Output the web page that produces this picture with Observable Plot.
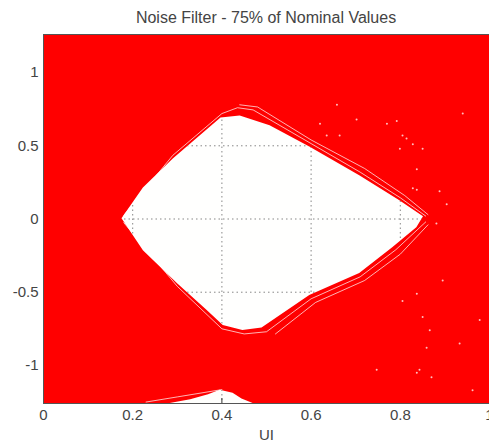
<!DOCTYPE html>
<html>
<head>
<meta charset="utf-8">
<script src="https://cdn.jsdelivr.net/npm/d3@7"></script>
<script src="https://cdn.jsdelivr.net/npm/@observablehq/plot@0.6"></script>
<style>
  html, body { margin: 0; padding: 0; background: white; overflow: hidden; }
  #title { height: 26px; box-sizing: border-box; padding: 10px 0 0 43px; width: 489px;
           font: 16px "Liberation Sans", Arial, sans-serif; line-height: 15px; color: #444; text-align: center; white-space: nowrap; }
</style>
</head>
<body>
<div id="title"></div>
<div id="chart"></div>
<script>
const titleText = "Noise Filter - 75% of Nominal Values";
const xLabel = "UI";
const xTicks = [0, 0.2, 0.4, 0.6, 0.8, 1];
const yTicks = [-1, -0.5, 0, 0.5, 1];

// eye opening: inner boundary (upper and lower)
const upperX = [0.176, 0.224, 0.291, 0.351, 0.398, 0.441, 0.508, 0.597, 0.709, 0.799, 0.852];
const upperY = [0.002, 0.212, 0.41, 0.567, 0.69, 0.704, 0.636, 0.492, 0.295, 0.124, 0.016];
const lowerX = [0.176, 0.224, 0.300, 0.367, 0.403, 0.447, 0.490, 0.597, 0.709, 0.783, 0.837, 0.852];
const lowerY = [0.002, -0.216, -0.441, -0.625, -0.727, -0.761, -0.745, -0.523, -0.373, -0.196, -0.06, 0.016];

// top of the next eye, visible at the bottom edge
const bumpX = [0.284, 0.33, 0.37, 0.396, 0.425, 0.445, 0.47];
const bumpY = [-1.26, -1.235, -1.20, -1.17, -1.19, -1.23, -1.26];

// stray traces just outside the opening
const traceA_X = [0.18, 0.29, 0.40, 0.435, 0.47, 0.60, 0.71, 0.80, 0.857];
const traceA_Y = [0.025, 0.435, 0.72, 0.76, 0.745, 0.515, 0.32, 0.145, 0.02];
const traceB_X = [0.44, 0.48, 0.60, 0.72, 0.81, 0.862];
const traceB_Y = [0.78, 0.765, 0.54, 0.345, 0.16, 0.03];
const traceC_X = [0.18, 0.30, 0.40, 0.45, 0.50, 0.60, 0.71, 0.79, 0.857];
const traceC_Y = [-0.025, -0.46, -0.75, -0.785, -0.77, -0.545, -0.395, -0.21, -0.02];
const traceD_X = [0.52, 0.61, 0.72, 0.80, 0.862];
const traceD_Y = [-0.785, -0.57, -0.42, -0.24, -0.04];
const traceE_X = [0.23, 0.30, 0.36, 0.40];
const traceE_Y = [-1.25, -1.215, -1.185, -1.165];

// noise specks in the red area
const speckX = [0.770, 0.792, 0.805, 0.814, 0.828, 0.799, 0.850, 0.940, 0.828, 0.888, 0.904, 0.881, 0.895, 0.837, 0.805, 0.850, 0.978, 0.866, 0.933, 0.843, 0.747, 0.837, 0.870, 0.962, 0.859, 0.658, 0.702, 0.837, 0.837, 0.620, 0.635, 0.664];
const speckY = [0.65, 0.67, 0.57, 0.55, 0.51, 0.48, 0.48, 0.72, 0.21, 0.19, 0.10, -0.03, -0.42, -0.51, -0.56, -0.67, -0.69, -0.76, -0.85, -1.03, -1.03, -1.05, -1.08, -1.17, -0.88, 0.78, 0.68, 0.34, 0.20, 0.65, 0.57, 0.57];

document.getElementById("title").textContent = titleText;

const eye = [
  ...upperX.map((x, i) => ({x, y: upperY[i]})),
  ...lowerX.map((x, i) => ({x, y: lowerY[i]})).reverse()
];
const bump = bumpX.map((x, i) => ({x, y: bumpY[i]}));
const traces = [
  [traceA_X, traceA_Y, "A"], [traceB_X, traceB_Y, "B"], [traceC_X, traceC_Y, "C"],
  [traceD_X, traceD_Y, "D"], [traceE_X, traceE_Y, "E"]
].flatMap(([xs, ys, id]) => xs.map((x, i) => ({x, y: ys[i], id})));
const specks = speckX.map((x, i) => ({x, y: speckY[i]}));

// a closed polygon drawn as an area whose return edge collapses to its first vertex
const polygon = (pts, fill) => Plot.area(pts, {
  x1: "x", y1: "y", x2: () => pts[0].x, y2: () => pts[0].y, fill, stroke: "none", curve: "linear"
});

const EYE_FILL = "#fffffe", BUMP_FILL = "#fffffd", GRID = "#878787", INNER_TICK = "#343434";

const svg = Plot.plot({
  width: 489,
  height: 420,
  marginLeft: 43,
  marginRight: 0,
  marginTop: 8,
  marginBottom: 43,
  style: {fontFamily: "'Liberation Sans', Arial, sans-serif", fontSize: "15px", color: "#444", background: "white", overflow: "visible"},
  x: {domain: [0, 1]},
  y: {domain: [-1.26, 1.26]},
  marks: [
    Plot.frame({fill: "#ff0000"}),
    polygon(eye, EYE_FILL),
    polygon(bump, BUMP_FILL),
    Plot.line(traces, {x: "x", y: "y", z: "id", stroke: "white", strokeWidth: 1, strokeOpacity: 0.7}),
    Plot.dot(specks, {x: "x", y: "y", r: 1, fill: "white", fillOpacity: 0.75, stroke: "none"}),
    Plot.ruleX(xTicks, {x: d => d, stroke: GRID, strokeWidth: 1, strokeDasharray: "1.5,3"}),
    Plot.ruleY(yTicks, {y: d => d, stroke: GRID, strokeWidth: 1, strokeDasharray: "1.5,3"}),
    Plot.axisX(xTicks, {tickSize: -5, tickFormat: () => "", label: null, stroke: INNER_TICK}),
    Plot.axisX(xTicks, {tickSize: 0, tickPadding: 6, tickFormat: d => String(d), label: null, fill: "#444"}),
    Plot.axisY(yTicks, {tickSize: 0, tickPadding: 5, tickFormat: d => String(d), label: null, fill: "#444"}),
    Plot.text([xLabel], {text: d => d, frameAnchor: "bottom", dy: 36, fontSize: 15, fill: "#444"}),
    Plot.frame({stroke: "#555", strokeWidth: 1})
  ]
});
document.getElementById("chart").appendChild(svg);

// show grid lines and inner ticks only inside the white openings
const ns = "http://www.w3.org/2000/svg";
const defs = document.createElementNS(ns, "defs");
const cp = document.createElementNS(ns, "clipPath");
cp.setAttribute("id", "eyeclip");
svg.querySelectorAll(`g[fill="${EYE_FILL}"] path, g[fill="${BUMP_FILL}"] path, path[fill="${EYE_FILL}"], path[fill="${BUMP_FILL}"]`).forEach(p => {
  const c = p.cloneNode(true);
  const t = p.parentNode.getAttribute("transform");
  if (t) c.setAttribute("transform", t);
  cp.appendChild(c);
});
defs.appendChild(cp);
svg.insertBefore(defs, svg.firstChild);
svg.querySelectorAll(`g[stroke="${GRID}"], g[stroke="${INNER_TICK}"]`).forEach(g => {
  g.setAttribute("clip-path", "url(#eyeclip)");
});
</script>
</body>
</html>
